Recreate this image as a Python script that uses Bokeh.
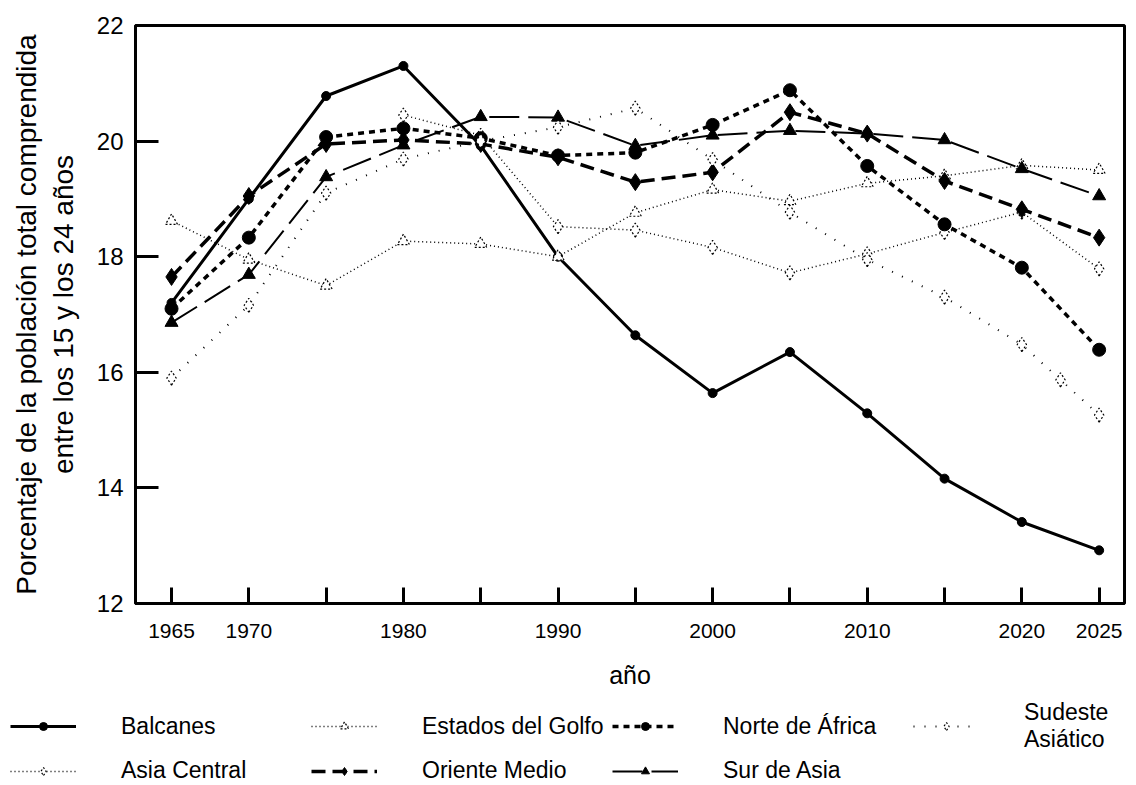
from bokeh.plotting import figure
from bokeh.models import Range1d, FixedTicker, Legend, LegendItem
from bokeh.layouts import column
from bokeh.embed import file_html
from bokeh.resources import INLINE

years = [1965, 1970, 1975, 1980, 1985, 1990, 1995, 2000, 2005, 2010, 2015, 2020, 2025]
balcanes = [17.2, 19.0, 20.78, 21.3, 19.92, 18.0, 16.64, 15.64, 16.35, 15.29, 14.16, 13.41, 12.92]
norte_africa = [17.1, 18.33, 20.07, 20.22, 20.05, 19.75, 19.8, 20.28, 20.88, 19.57, 18.56, 17.81, 16.39]
oriente_medio = [17.65, 19.05, 19.95, 20.02, 19.95, 19.72, 19.29, 19.46, 20.5, 20.13, 19.31, 18.82, 18.33]
sur_asia = [16.86, 17.69, 19.38, 19.93, 20.42, 20.41, 19.92, 20.1, 20.18, 20.13, 20.02, 19.52, 19.05]
golfo = [18.62, 17.95, 17.5, 18.27, 18.22, 18.0, 18.76, 19.16, 18.96, 19.27, 19.4, 19.58, 19.5]
asia_central_years = [1980, 1985, 1990, 1995, 2000, 2005, 2010, 2015, 2020, 2025]
asia_central = [20.45, 20.1, 18.52, 18.46, 18.16, 17.72, 18.05, 18.42, 18.77, 17.79]
sudeste_years = [1965, 1970, 1975, 1980, 1985, 1990, 1995, 2000, 2005, 2010, 2015, 2020, 2022.5, 2025]
sudeste = [15.9, 17.16, 19.1, 19.69, 20.0, 20.24, 20.57, 19.68, 18.77, 17.95, 17.3, 16.48, 15.87, 15.26]

y_ticks = [12, 14, 16, 18, 20, 22]
x_labels = {1965: "1965", 1970: "1970", 1975: "", 1980: "1980", 1985: "", 1990: "1990",
            1995: "", 2000: "2000", 2005: "", 2010: "2010", 2015: "", 2020: "2020", 2025: "2025"}

FONT = "Liberation Sans"

p = figure(width=1136, height=700, x_range=Range1d(1962.67, 2026.64), y_range=Range1d(12, 22),
           output_backend="svg", toolbar_location=None, frame_align=False,
           min_border_left=135, min_border_right=12, min_border_top=25, min_border_bottom=97)
p.background_fill_color = "white"
p.border_fill_color = "white"
p.outline_line_color = "black"
p.outline_line_width = 3
p.xgrid.visible = False
p.ygrid.visible = False

p.xaxis.ticker = FixedTicker(ticks=years)
p.xaxis.major_label_overrides = {k: v for k, v in x_labels.items()}
p.yaxis.ticker = FixedTicker(ticks=y_ticks)
for ax in (p.xaxis, p.yaxis):
    ax.axis_line_width = 3
    ax.axis_line_color = "black"
    ax.major_tick_line_width = 3
    ax.major_tick_line_color = "black"
    ax.major_tick_out = 0
    ax.minor_tick_line_color = None
    ax.major_label_text_font = FONT
    ax.major_label_text_color = "black"
    ax.axis_label_text_font = FONT
    ax.axis_label_text_font_style = "normal"
    ax.axis_label_text_color = "black"
p.yaxis.major_tick_in = 23
p.xaxis.major_tick_in = 16
p.yaxis.major_label_text_font_size = "24px"
p.xaxis.major_label_text_font_size = "21px"
p.yaxis.major_label_standoff = 12
p.xaxis.major_label_standoff = 20
p.xaxis.axis_label = "año"
p.yaxis.axis_label = "Porcentaje de la población total comprendida\nentre los 15 y los 24 años"
p.xaxis.axis_label_text_font_size = "25px"
p.yaxis.axis_label_text_font_size = "28px"
p.xaxis.axis_label_standoff = 20
p.yaxis.axis_label_standoff = 15

# legend-only figure below the chart; its glyphs lie outside its ranges
leg = figure(width=1136, height=85, x_range=Range1d(0, 1), y_range=Range1d(0, 1),
             x_axis_location=None, y_axis_location=None, frame_align=False,
             output_backend="svg", toolbar_location=None, min_border=0,
             min_border_left=0, min_border_right=0, min_border_top=0, min_border_bottom=0)
leg.outline_line_color = None
leg.xgrid.visible = False
leg.ygrid.visible = False
leg.background_fill_color = "white"
leg.border_fill_color = "white"

styles = {
    "Balcanes": (years, balcanes, dict(line_width=3), dict(marker="circle", size=9, fill_color="black")),
    "Asia Central": (asia_central_years, asia_central, dict(line_width=1.5, line_dash="1 3"),
                     dict(marker="diamond", size=14, fill_color="white", line_width=1.2, line_dash="2 2")),
    "Estados del Golfo": (years, golfo, dict(line_width=1.5, line_dash="1 3"),
                          dict(marker="triangle", size=12, fill_color="white", line_width=1.2, line_dash="2 2")),
    "Oriente Medio": (years, oriente_medio, dict(line_width=3.5, line_dash="14 7"),
                      dict(marker="diamond", size=17, fill_color="black")),
    "Norte de África": (years, norte_africa, dict(line_width=3.5, line_dash="6 5"),
                        dict(marker="circle", size=13, fill_color="black")),
    "Sur de Asia": (years, sur_asia, dict(line_width=2, line_dash="30 9"),
                    dict(marker="triangle", size=13, fill_color="black")),
    "Sudeste\nAsiático": (sudeste_years, sudeste, dict(line_width=2, line_dash="1 10"),
                          dict(marker="diamond", size=14, fill_color="white", line_width=1.2, line_dash="2 2")),
}

legend_renderers = {}
for name, (xs, ys, lkw, skw) in styles.items():
    p.line(xs, ys, line_color="black", **lkw)
    p.scatter(xs, ys, line_color="black", **skw)
    l2 = leg.line(xs, ys, line_color="black", **lkw)
    s2 = leg.scatter(xs, ys, line_color="black", **skw)
    legend_renderers[name] = [l2, s2]

legend_order = ["Balcanes", "Estados del Golfo", "Norte de África", "Sudeste\nAsiático",
                "Asia Central", "Oriente Medio", "Sur de Asia"]
items = [LegendItem(label=n, renderers=legend_renderers[n]) for n in legend_order]

legend = Legend(items=items, location=(10, 1), orientation="horizontal", nrows=2,
                glyph_width=66, glyph_height=20, label_standoff=45, label_width=186, spacing=4,
                padding=0, margin=0, border_line_color=None, background_fill_alpha=0,
                label_text_font=FONT, label_text_font_size="23px", label_text_color="black",
                label_text_line_height=1.1)
leg.add_layout(legend, "center")

layout = column(p, leg, spacing=0)
open("out.html", "w").write(file_html(layout, INLINE))
